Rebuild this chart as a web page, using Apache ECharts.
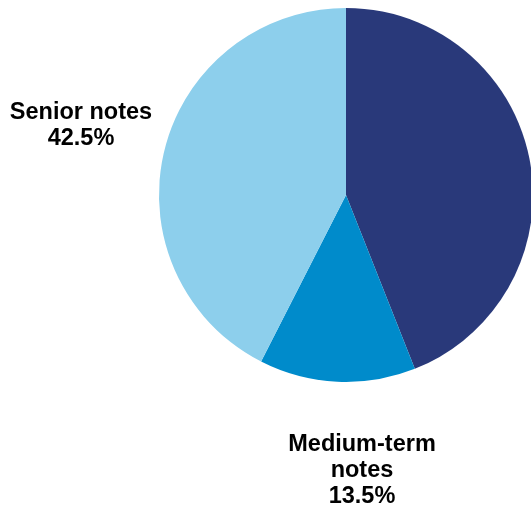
<!DOCTYPE html>
<html>
<head>
<meta charset="utf-8">
<script src="https://cdn.jsdelivr.net/npm/echarts@6/dist/echarts.min.js"></script>
<style>html,body{margin:0;padding:0;background:#fff}#c{width:531px;height:509px}</style>
</head>
<body>
<div id="c"></div>
<script>
var categories = ["Other", "Medium-term\nnotes", "Senior notes"];
var values = [44.0, 13.5, 42.5];
var colors = ["#29397A", "#008BCB", "#8DCFEC"];
var showLabel = [false, true, true];
var labelSpots = [null, [362, 471], [81, 126]];

var chart = echarts.init(document.getElementById('c'), null, {renderer: 'canvas'});
chart.setOption({
  animation: false,
  series: [{
    type: 'pie',
    center: [346, 195],
    radius: 187,
    startAngle: 90,
    clockwise: true,
    silent: true,
    avoidLabelOverlap: false,
    itemStyle: {borderWidth: 0},
    label: {
      show: true,
      position: 'outside',
      overflow: 'none',
      formatter: function (p) { return p.name + '\n' + p.value.toFixed(1) + '%'; },
      fontFamily: 'Liberation Sans, Arial, sans-serif',
      fontWeight: 'bold',
      fontSize: 23.5,
      lineHeight: 26,
      color: '#000',
      align: 'center'
    },
    labelLine: {show: false},
    labelLayout: function (params) {
      var s = labelSpots[params.dataIndex];
      if (!s) return {};
      return {x: s[0], y: s[1], align: 'center', verticalAlign: 'middle'};
    },
    data: categories.map(function (c, i) {
      return {
        name: c,
        value: values[i],
        itemStyle: {color: colors[i]},
        label: {show: showLabel[i]}
      };
    })
  }]
});
</script>
</body>
</html>
